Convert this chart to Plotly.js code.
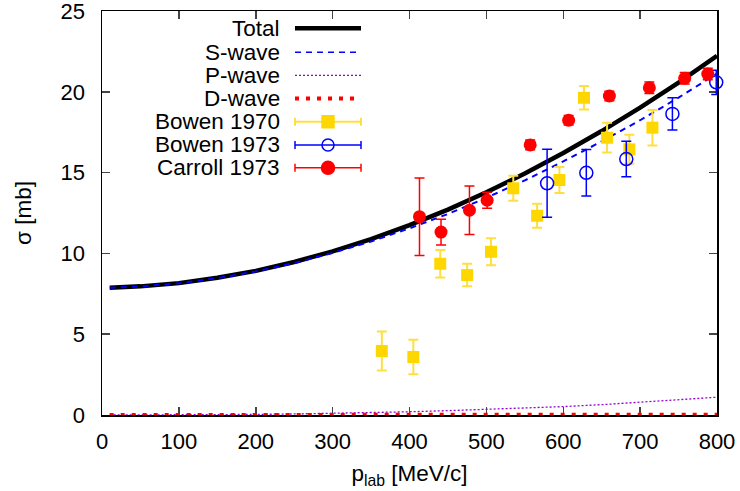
<!DOCTYPE html>
<html>
<head>
<meta charset="utf-8">
<script src="https://cdn.plot.ly/plotly-3.0.1.min.js"></script>
<style>html,body{margin:0;padding:0;background:#fff;}#chart{width:740px;height:491px;}</style>
</head>
<body>
<div id="chart"></div>
<script>
// ---- Data ----
const pGrid = [10, 50, 100, 150, 200, 250, 300, 350, 400, 450, 500, 550, 600, 650, 700, 750, 800];
const totalCurve = [7.88, 7.96, 8.16, 8.49, 8.92, 9.47, 10.13, 10.89, 11.75, 12.71, 13.78, 14.94, 16.21, 17.57, 19.02, 20.57, 22.23];
const sWaveCurve = [7.88, 7.96, 8.15, 8.47, 8.88, 9.40, 10.03, 10.74, 11.55, 12.44, 13.44, 14.52, 15.69, 16.93, 18.24, 19.64, 21.13];
const pWaveCurve = [0, 0.001, 0.005, 0.015, 0.035, 0.065, 0.10, 0.15, 0.20, 0.27, 0.34, 0.42, 0.52, 0.64, 0.78, 0.93, 1.10];
const dWaveCurve = [0, 0, 0, 0, 0, 0, 0, 0, 0, 0.001, 0.002, 0.003, 0.005, 0.008, 0.012, 0.016, 0.02];

const bowen1970P = [364, 405, 440, 475, 506, 535, 566, 595, 627, 657, 686, 716];
const bowen1970S = [3.96, 3.59, 9.36, 8.66, 10.10, 14.03, 12.33, 14.54, 19.63, 17.16, 16.44, 17.78];
const bowen1970E = [1.20, 1.07, 0.85, 0.70, 0.83, 0.77, 0.75, 0.80, 0.73, 0.92, 0.90, 1.10];

const bowen1973P = [579, 630, 682, 742, 799];
const bowen1973S = [14.34, 14.99, 15.84, 18.63, 20.59];
const bowen1973E = [2.10, 1.44, 1.10, 1.00, 0.75];

const carroll1973P = [413, 441, 478, 501, 557, 607, 660, 712, 758, 788];
const carroll1973S = [12.27, 11.32, 12.67, 13.29, 16.71, 18.24, 19.74, 20.25, 20.84, 21.10];
const carroll1973E = [2.40, 0.80, 1.50, 0.50, 0.30, 0.30, 0.30, 0.35, 0.35, 0.35];

const legendLabels = ['Total', 'S-wave', 'P-wave', 'D-wave', 'Bowen 1970', 'Bowen 1973', 'Carroll 1973'];
const xTickVals = [0, 100, 200, 300, 400, 500, 600, 700, 800];
const yTickVals = [0, 5, 10, 15, 20, 25];
const yTickText = ['0', '5', '10', '15', '20', '25'];

// ---- Styles ----
const FONT = 'Liberation Sans, Arial, sans-serif';
const GOLD = '#ffd700', GOLD_BAR = '#ffdf40', BLUE = '#0000ff', RED = '#ff0000', VIOLET = '#9400d3';

const traces = [
  {x: pGrid, y: totalCurve, mode: 'lines', line: {color: '#000', width: 4.5}, name: legendLabels[0]},
  {x: pGrid, y: sWaveCurve, mode: 'lines', line: {color: BLUE, width: 2, dash: '6px,5px'}, name: legendLabels[1]},
  {x: pGrid, y: pWaveCurve, mode: 'lines', line: {color: VIOLET, width: 1.3, dash: '2px,2px'}, name: legendLabels[2]},
  {x: pGrid, y: dWaveCurve, mode: 'lines', line: {color: RED, width: 4, dash: '4px,7px'}, name: legendLabels[3], cliponaxis: false},
  {x: bowen1970P, y: bowen1970S, mode: 'markers', name: legendLabels[4], cliponaxis: false,
   marker: {symbol: 'square', size: 12, color: GOLD},
   error_y: {type: 'data', array: bowen1970E, visible: true, color: GOLD_BAR, thickness: 2, width: 5}},
  {x: bowen1973P, y: bowen1973S, mode: 'markers', name: legendLabels[5], cliponaxis: false,
   marker: {symbol: 'circle-open', size: 13, color: BLUE, line: {width: 1.5, color: BLUE}},
   error_y: {type: 'data', array: bowen1973E, visible: true, color: BLUE, thickness: 1.5, width: 5}},
  {x: carroll1973P, y: carroll1973S, mode: 'markers', name: legendLabels[6], cliponaxis: false,
   marker: {symbol: 'circle', size: 13, color: RED},
   error_y: {type: 'data', array: carroll1973E, visible: true, color: RED, thickness: 1.5, width: 5}}
];

// ---- Custom gnuplot-style legend (text left, sample right) ----
const PL = 102, PR = 717, PT = 11, PB = 415;
const px2x = px => (px - PL) / (PR - PL);
const py2y = py => (PB - py) / (PB - PT);
const rowY = [28.3, 52.3, 75.3, 98.5, 121.7, 145, 167.8];
const textRight = 282, sx0 = 295, sx1 = 361, sxc = 328;

const annotations = legendLabels.map((t, i) => ({
  xref: 'paper', yref: 'paper', x: px2x(textRight), y: py2y(rowY[i]),
  xanchor: 'right', yanchor: 'middle', text: t, showarrow: false,
  font: {family: FONT, size: 22.5, color: '#000'}
}));

const shapes = [];
const legLine = (i, color, width, dash) => shapes.push({type: 'line', xref: 'paper', yref: 'paper',
  x0: px2x(sx0), x1: px2x(sx1), y0: py2y(rowY[i]), y1: py2y(rowY[i]), line: {color, width, dash}});
legLine(0, '#000', 4.5, 'solid');
legLine(1, BLUE, 1.5, '6px,5px');
legLine(2, VIOLET, 1.3, '2px,2px');
legLine(3, RED, 4, '4px,7px');
const legErr = (i, color, width) => {
  legLine(i, color, width, 'solid');
  [sx0, sx1].forEach(px => shapes.push({type: 'line', xref: 'paper', yref: 'paper',
    x0: px2x(px), x1: px2x(px), y0: py2y(rowY[i] - 4), y1: py2y(rowY[i] + 4), line: {color, width}}));
};
legErr(4, GOLD_BAR, 2);
legErr(5, BLUE, 1.5);
legErr(6, RED, 1.5);
const legMarker = (i, type, fill, lineColor, half) => shapes.push({type, xref: 'paper', yref: 'paper',
  xsizemode: 'pixel', ysizemode: 'pixel', xanchor: px2x(sxc), yanchor: py2y(rowY[i]),
  x0: -half, x1: half, y0: -half, y1: half, fillcolor: fill, line: {color: lineColor, width: 1.5}});
legMarker(4, 'rect', GOLD, GOLD, 6);
legMarker(5, 'circle', 'rgba(0,0,0,0)', BLUE, 6);
legMarker(6, 'circle', RED, RED, 6.5);

const axisCommon = {
  showline: true, linecolor: '#000', linewidth: 1.5, mirror: 'ticks',
  ticks: 'inside', ticklen: 8, tickwidth: 1.5, tickcolor: '#444',
  showgrid: false, zeroline: false, layer: 'below traces',
  tickfont: {family: FONT, size: 22, color: '#000'}
};

const layout = {
  width: 740, height: 491,
  margin: {l: PL, r: 740 - PR, t: PT, b: 491 - PB},
  paper_bgcolor: '#fff', plot_bgcolor: '#fff',
  showlegend: false,
  font: {family: FONT, size: 22, color: '#000'},
  xaxis: Object.assign({}, axisCommon, {
    range: [0, 800], tickvals: xTickVals, ticklabelstandoff: 6,
    title: {text: 'p<sub>lab</sub> [MeV/c]', font: {family: FONT, size: 22.5}, standoff: 12}
  }),
  yaxis: Object.assign({}, axisCommon, {
    range: [0, 25.0001], tickvals: yTickVals, ticktext: yTickText, ticklabelstandoff: 11,
    ticklabeloverflow: 'allow',
    title: {text: 'σ [mb]', font: {family: FONT, size: 22.5}, standoff: 22}
  }),
  annotations, shapes
};

Plotly.newPlot('chart', traces, layout, {staticPlot: true, displayModeBar: false});
</script>
</body>
</html>
